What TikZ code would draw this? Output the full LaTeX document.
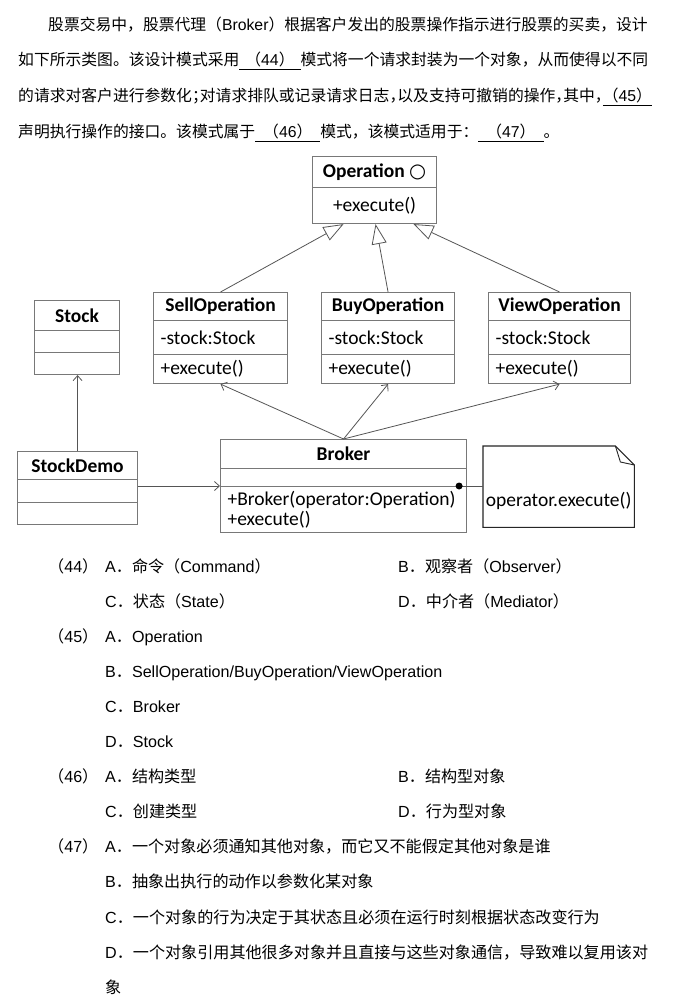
\documentclass[tikz,border=0pt]{standalone}
\usepackage{fontspec}
\setmainfont{Liberation Sans}
\newfontfamily\cjk{Noto Sans CJK SC}
\newfontfamily\umlfont{Carlito}
\newfontfamily\glyphfont{DejaVu Sans}
\usetikzlibrary{arrows.meta}

\definecolor{boxgray}{RGB}{120,120,120}
\definecolor{linegray}{RGB}{85,85,85}

\newcommand{\zh}[1]{{\cjk #1}}
\newcommand{\qblank}[2][6pt]{\underline{\hspace{#1}\zh{（}#2\zh{）}\hspace{#1}}}
\newcommand{\halfp}[1]{\makebox[0.5em][l]{\zh{#1}}}

\tikzset{
  para/.style={anchor=base west, inner sep=0pt, font=\fontsize{15.8}{19}\selectfont},
  choice/.style={anchor=base west, inner sep=0pt, font=\fontsize{16.1}{19}\selectfont},
  cls/.style={draw=boxgray, line width=1.1pt, anchor=north west, inner sep=0pt,
    font=\umlfont\fontsize{19.5}{19.5}\selectfont},
  clshead/.style={cls, font=\umlfont\bfseries\fontsize{19.5}{19.5}\selectfont},
  clsbody/.style={cls, align=left, inner xsep=7pt},
  inherit/.style={draw=linegray, line width=0.8pt, -{Triangle[open, length=20pt, width=15pt, fill=white]}},
  assoc/.style={draw=linegray, line width=0.8pt, -{Straight Barb[length=5pt, width=9pt]}}
}

\begin{document}
\begin{tikzpicture}[x=1pt, y=-1pt]
\useasboundingbox (0,0) rectangle (677,1006);
\fill[white] (0,0) rectangle (677,1006);

\node[para] (l1) at (48,31) {\zh{股票交易中，股票代理（}Broker\zh{）根据客户发出的股票操作指示进行股票的买卖，设计}};
\node[para] (l2) at (18,66) {\zh{如下所示类图。该设计模式采用}\qblank{44}\zh{模式将一个请求封装为一个对象，从而使得以不同}};
\node[para] (l3) at (18,102) {\zh{的请求对客户进行参数化}\halfp{；}\zh{对请求排队或记录请求日志}\halfp{，}\zh{以及支持可撤销的操作}\halfp{，}\zh{其中}\halfp{，}\qblank[0pt]{45}};
\node[para] (l4) at (18,138) {\zh{声明执行操作的接口。该模式属于}\qblank[8pt]{46}\zh{模式，该模式适用于：}\qblank[8pt]{47}\zh{。}};

\node[clshead, minimum width=124pt, minimum height=31pt] (op) at (312,156) {Operation {\glyphfont ○}};
\node[cls, minimum width=124pt, minimum height=36pt] (opO) at (312,187) {+execute()};

\node[clshead, minimum width=134pt, minimum height=28pt] (sell) at (153,292) {SellOperation};
\node[clsbody, text width=120pt, minimum height=34pt] (sellA) at (153,320) {-stock:Stock};
\node[clsbody, text width=120pt, minimum height=29pt] (sellO) at (153,354) {+execute()};

\node[clshead, minimum width=133pt, minimum height=28pt] (buy) at (321,292) {BuyOperation};
\node[clsbody, text width=119pt, minimum height=34pt] (buyA) at (321,320) {-stock:Stock};
\node[clsbody, text width=119pt, minimum height=29pt] (buyO) at (321,354) {+execute()};

\node[clshead, minimum width=142pt, minimum height=28pt] (view) at (488,292) {ViewOperation};
\node[clsbody, text width=128pt, minimum height=34pt] (viewA) at (488,320) {-stock:Stock};
\node[clsbody, text width=128pt, minimum height=29pt] (viewO) at (488,354) {+execute()};

\node[clshead, minimum width=85pt, minimum height=30pt] (stock) at (34,300) {Stock};
\node[cls, minimum width=85pt, minimum height=22pt] (stockA) at (34,330) {};
\node[cls, minimum width=85pt, minimum height=22pt] (stockO) at (34,352) {};

\node[clshead, minimum width=120pt, minimum height=28pt] (demo) at (17,451) {StockDemo};
\node[cls, minimum width=120pt, minimum height=23pt] (demoA) at (17,479) {};
\node[cls, minimum width=120pt, minimum height=22pt] (demoO) at (17,502) {};

\node[clshead, minimum width=246pt, minimum height=29pt] (broker) at (220,439) {Broker};
\node[cls, minimum width=246pt, minimum height=18pt] (brokerA) at (220,468) {};
\node[clsbody, text width=232pt, minimum height=46pt] (brokerO) at (220,486) {+Broker(operator:Operation)\\+execute()};

\node[minimum width=151pt, minimum height=81pt, anchor=north west, inner sep=0pt] (note) at (483,446) {};
\draw[black!85, line width=1.1pt] (note.south west) -- (note.north west) -- ([xshift=-19pt]note.north east)
  -- ([yshift=-19pt]note.north east) -- (note.south east) -- cycle;
\draw[black!85, line width=0.9pt] ([xshift=-19pt]note.north east) -- ([xshift=-14pt,yshift=-16pt]note.north east)
  -- ([yshift=-19pt]note.north east);
\node[font=\umlfont\fontsize{19.5}{19.5}\selectfont, inner sep=0pt] (notetxt) at ([yshift=-14pt]note.center) {operator.execute()};

\draw[inherit] (sell.north) -- ([xshift=-31pt]opO.south);
\draw[inherit] (buy.north) -- ([xshift=1pt]opO.south);
\draw[inherit] (view.north) -- ([xshift=39pt]opO.south);

\draw[assoc] (broker.north) -- (sellO.south);
\draw[assoc] (broker.north) -- (buyO.south);
\draw[assoc] (broker.north) -- (viewO.south);
\draw[assoc] (demo.north) -- (demo.north |- stockO.south);
\draw[assoc] (demoA.east |- brokerO.north west) -- (brokerO.north west);

\coordinate (dot) at ([xshift=-8pt]brokerO.north east);
\draw[linegray, line width=0.8pt] (dot) -- (dot -| note.west);
\fill (dot) circle (3.5pt);

\node[choice] (q44) at (48,572) {\zh{（}44\zh{）}};
\node[choice] (q44a) at (105,572) {A\zh{．命令（}Command\zh{）}};
\node[choice] (q44b) at (398,572) {B\zh{．观察者（}Observer\zh{）}};
\node[choice] (q44c) at (105,607) {C\zh{．状态（}State\zh{）}};
\node[choice] (q44d) at (398,607) {D\zh{．中介者（}Mediator\zh{）}};
\node[choice] (q45) at (48,642) {\zh{（}45\zh{）}};
\node[choice] (q45a) at (105,642) {A\zh{．}Operation};
\node[choice] (q45b) at (105,677) {B\zh{．}SellOperation/BuyOperation/ViewOperation};
\node[choice] (q45c) at (105,712) {C\zh{．}Broker};
\node[choice] (q45d) at (105,747) {D\zh{．}Stock};
\node[choice] (q46) at (48,782) {\zh{（}46\zh{）}};
\node[choice] (q46a) at (105,782) {A\zh{．结构类型}};
\node[choice] (q46b) at (398,782) {B\zh{．结构型对象}};
\node[choice] (q46c) at (105,817) {C\zh{．创建类型}};
\node[choice] (q46d) at (398,817) {D\zh{．行为型对象}};
\node[choice] (q47) at (48,852) {\zh{（}47\zh{）}};
\node[choice] (q47a) at (105,852) {A\zh{．一个对象必须通知其他对象，而它又不能假定其他对象是谁}};
\node[choice] (q47b) at (105,887) {B\zh{．抽象出执行的动作以参数化某对象}};
\node[choice] (q47c) at (105,923) {C\zh{．一个对象的行为决定于其状态且必须在运行时刻根据状态改变行为}};
\node[choice] (q47d) at (105,958) {D\zh{．一个对象引用其他很多对象并且直接与这些对象通信，导致难以复用该对}};
\node[choice] (q47e) at (105,993) {\zh{象}};
\end{tikzpicture}
\end{document}
